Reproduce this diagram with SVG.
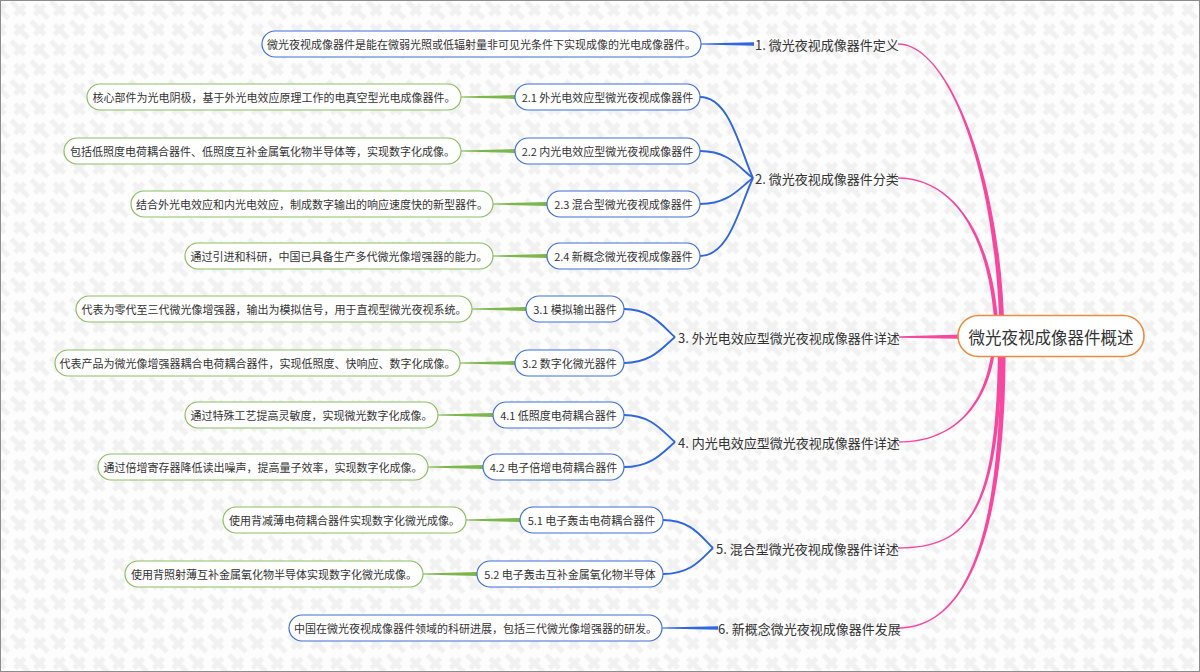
<svg xmlns="http://www.w3.org/2000/svg" width="1200" height="672" viewBox="0 0 1200 672">
<style>
text{font-family:"Noto Sans CJK SC","Noto Sans",sans-serif;fill:#333;dominant-baseline:central}
.l1{font-size:13px}
.t{font-size:11px;text-anchor:middle}
.root rect{fill:#fff;stroke:#ef8a3c;stroke-width:1.6}
.root text{font-size:16.5px;text-anchor:middle}
.child rect{fill:#fff;stroke:#3f6fde;stroke-width:1.2}
.leaf rect{fill:#fff;stroke:#8dbf62;stroke-width:1.2}
.leafb rect{fill:#fff;stroke:#3f6fde;stroke-width:1.2}
.pink{fill:#f7479f}
.blue{fill:none;stroke:#3066e0;stroke-width:1.9}
.bluef{fill:#3066e0}
.green{fill:#7cb74c}
</style>
<defs>
<pattern id="bg" width="28" height="28" patternUnits="userSpaceOnUse" patternTransform="rotate(45)">
<rect width="28" height="28" fill="#fdfdfd"/>
<path d="M0,7H19M9,21H28M7,0V14M21,14V28" stroke="#f1f1f1" stroke-width="5" fill="none"/>
</pattern>
</defs>
<rect x="0.5" y="0.5" width="1199" height="671" fill="url(#bg)" stroke="#8c8c8c" stroke-width="1"/>

<g id="connectors">
<path class="pink" d="M898,43.25 C950,43.25 1002.5,180 1004.5,336 L999.5,336 C997.5,180 950,44.75 898,44.75 Z"/>
<path class="pink" d="M898,177.3 C950,177.3 995,230 999,336 L995,336 C991,230 950,178.7 898,178.7 Z"/>
<path class="pink" d="M899,336.3 L1000,333.5 L1000,339.5 L899,337.7 Z"/>
<path class="pink" d="M899,442.7 C950,442.7 991.75,410 996.75,336 L993.25,336 C988.25,410 950,441.3 899,441.3 Z"/>
<path class="pink" d="M898,548.7 C970,548.7 1002,510 1002,336 L998,336 C998,510 970,547.3 898,547.3 Z"/>
<path class="pink" d="M898,628.75 C965,628.75 1007.5,540 1005.5,336 L1000.5,336 C1002.5,540 965,627.25 898,627.25 Z"/>

<path class="bluef" d="M701,43.4 L754,42.2 L754,45.8 L701,44.6 Z"/>
<path class="bluef" d="M662,627.4 L718,626.2 L718,629.8 L662,628.6 Z"/>

<path class="blue" d="M700,97 C730,97 740,150 753,178"/>
<path class="blue" d="M700,151 C730,151 740,169 753,178"/>
<path class="blue" d="M700,204 C730,204 740,187 753,178"/>
<path class="blue" d="M700,256 C730,256 740,205 753,178"/>
<path class="blue" d="M624,309 C652,309 663,327 675,337"/>
<path class="blue" d="M624,363 C652,363 663,347 675,337"/>
<path class="blue" d="M624,415 C652,415 663,432 675,442"/>
<path class="blue" d="M624,467 C652,467 663,452 675,442"/>
<path class="blue" d="M663,520 C692,520 702,538 713,548"/>
<path class="blue" d="M663,574 C692,574 702,558 713,548"/>

<path class="green" d="M461,96.5 L515,95 L515,99 L461,97.5 Z"/>
<path class="green" d="M461,150.5 L515,149 L515,153 L461,151.5 Z"/>
<path class="green" d="M493,203.5 L547,202 L547,206 L493,204.5 Z"/>
<path class="green" d="M493,255.5 L547,254 L547,258 L493,256.5 Z"/>
<path class="green" d="M472,308.5 L526,307 L526,311 L472,309.5 Z"/>
<path class="green" d="M460,362.5 L515,361 L515,365 L460,363.5 Z"/>
<path class="green" d="M438,414.5 L493,413 L493,417 L438,415.5 Z"/>
<path class="green" d="M428,466.5 L483,465 L483,469 L428,467.5 Z"/>
<path class="green" d="M466,519.5 L520,518 L520,522 L466,520.5 Z"/>
<path class="green" d="M423,573.5 L477,572 L477,576 L423,574.5 Z"/>
</g>

<g id="root" class="root"><rect x="958" y="315.5" width="186" height="41" rx="20.5"/><text x="1051" y="336.5">微光夜视成像器件概述</text></g>

<g id="n1"><text class="l1" x="755" y="44">1. 微光夜视成像器件定义</text></g>
<g id="n2"><text class="l1" x="755" y="178">2. 微光夜视成像器件分类</text></g>
<g id="n3"><text class="l1" x="678" y="337">3. 外光电效应型微光夜视成像器件详述</text></g>
<g id="n4"><text class="l1" x="678" y="442">4. 内光电效应型微光夜视成像器件详述</text></g>
<g id="n5"><text class="l1" x="716" y="548">5. 混合型微光夜视成像器件详述</text></g>
<g id="n6"><text class="l1" x="718" y="628">6. 新概念微光夜视成像器件发展</text></g>

<g id="leaf1" class="leafb"><rect x="262" y="31" width="439" height="26" rx="13"/><text class="t" x="481.5" y="44">微光夜视成像器件是能在微弱光照或低辐射量非可见光条件下实现成像的光电成像器件。</text></g>

<g id="c21" class="child"><rect x="515" y="84" width="185" height="26" rx="13"/><text class="t" x="607.5" y="97">2.1 外光电效应型微光夜视成像器件</text></g>
<g id="leaf21" class="leaf"><rect x="87" y="84" width="374" height="26" rx="13"/><text class="t" x="274" y="97">核心部件为光电阴极，基于外光电效应原理工作的电真空型光电成像器件。</text></g>

<g id="c22" class="child"><rect x="515" y="138" width="185" height="26" rx="13"/><text class="t" x="607.5" y="151">2.2 内光电效应型微光夜视成像器件</text></g>
<g id="leaf22" class="leaf"><rect x="64" y="138" width="397" height="26" rx="13"/><text class="t" x="262.5" y="151">包括低照度电荷耦合器件、低照度互补金属氧化物半导体等，实现数字化成像。</text></g>

<g id="c23" class="child"><rect x="547" y="191" width="153" height="26" rx="13"/><text class="t" x="623.5" y="204">2.3 混合型微光夜视成像器件</text></g>
<g id="leaf23" class="leaf"><rect x="131" y="191" width="362" height="26" rx="13"/><text class="t" x="312" y="204">结合外光电效应和内光电效应，制成数字输出的响应速度快的新型器件。</text></g>

<g id="c24" class="child"><rect x="547" y="243" width="153" height="26" rx="13"/><text class="t" x="623.5" y="256">2.4 新概念微光夜视成像器件</text></g>
<g id="leaf24" class="leaf"><rect x="185" y="243" width="308" height="26" rx="13"/><text class="t" x="339" y="256">通过引进和科研，中国已具备生产多代微光像增强器的能力。</text></g>

<g id="c31" class="child"><rect x="526" y="296" width="98" height="26" rx="13"/><text class="t" x="575" y="309">3.1 模拟输出器件</text></g>
<g id="leaf31" class="leaf"><rect x="76" y="296" width="396" height="26" rx="13"/><text class="t" x="274" y="309">代表为零代至三代微光像增强器，输出为模拟信号，用于直视型微光夜视系统。</text></g>

<g id="c32" class="child"><rect x="515" y="350" width="109" height="26" rx="13"/><text class="t" x="569.5" y="363">3.2 数字化微光器件</text></g>
<g id="leaf32" class="leaf"><rect x="55" y="350" width="405" height="26" rx="13"/><text class="t" x="257.5" y="363">代表产品为微光像增强器耦合电荷耦合器件，实现低照度、快响应、数字化成像。</text></g>

<g id="c41" class="child"><rect x="493" y="402" width="131" height="26" rx="13"/><text class="t" x="558.5" y="415">4.1 低照度电荷耦合器件</text></g>
<g id="leaf41" class="leaf"><rect x="185" y="402" width="253" height="26" rx="13"/><text class="t" x="311.5" y="415">通过特殊工艺提高灵敏度，实现微光数字化成像。</text></g>

<g id="c42" class="child"><rect x="483" y="454" width="141" height="26" rx="13"/><text class="t" x="553.5" y="467">4.2 电子倍增电荷耦合器件</text></g>
<g id="leaf42" class="leaf"><rect x="98" y="454" width="330" height="26" rx="13"/><text class="t" x="263" y="467">通过倍增寄存器降低读出噪声，提高量子效率，实现数字化成像。</text></g>

<g id="c51" class="child"><rect x="520" y="507" width="143" height="26" rx="13"/><text class="t" x="591.5" y="520">5.1 电子轰击电荷耦合器件</text></g>
<g id="leaf51" class="leaf"><rect x="223" y="507" width="243" height="26" rx="13"/><text class="t" x="344.5" y="520">使用背减薄电荷耦合器件实现数字化微光成像。</text></g>

<g id="c52" class="child"><rect x="477" y="561" width="186" height="26" rx="13"/><text class="t" x="570" y="574">5.2 电子轰击互补金属氧化物半导体</text></g>
<g id="leaf52" class="leaf"><rect x="125" y="561" width="298" height="26" rx="13"/><text class="t" x="274" y="574">使用背照射薄互补金属氧化物半导体实现数字化微光成像。</text></g>

<g id="leaf6" class="leafb"><rect x="289" y="615" width="373" height="26" rx="13"/><text class="t" x="475.5" y="628">中国在微光夜视成像器件领域的科研进展，包括三代微光像增强器的研发。</text></g>
</svg>
